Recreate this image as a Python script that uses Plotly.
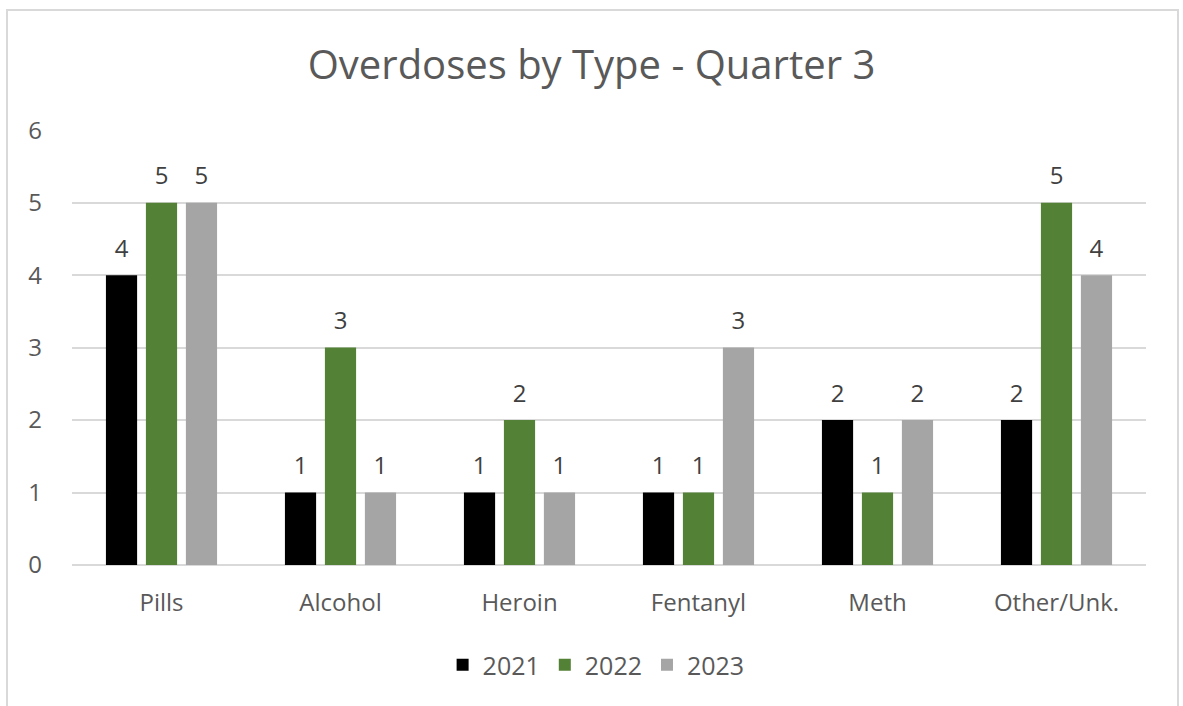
import plotly.graph_objects as go

categories = ["Pills", "Alcohol", "Heroin", "Fentanyl", "Meth", "Other/Unk."]
series_names = ["2021", "2022", "2023"]
values_2021 = [4, 1, 1, 1, 2, 2]
values_2022 = [5, 3, 2, 1, 1, 5]
values_2023 = [5, 1, 1, 3, 2, 4]
y_ticks = [0, 1, 2, 3, 4, 5, 6]

colors = ["#000000", "#538135", "#A5A5A5"]
FONT = "Open Sans, sans-serif"
TXT = "#595959"
LBL = "#404040"

fig = go.Figure()
for name, vals, col in zip(series_names, [values_2021, values_2022, values_2023], colors):
    fig.add_trace(go.Bar(
        x=categories, y=vals, name=name, offsetgroup=name, alignmentgroup="a",
        marker=dict(color=col, line=dict(width=0)),
    ))
for name, vals in zip(series_names, [values_2021, values_2022, values_2023]):
    fig.add_trace(go.Scatter(
        x=categories, y=vals, name=name, offsetgroup=name, alignmentgroup="a",
        mode="markers+text", marker=dict(size=18, opacity=0),
        text=[str(v) for v in vals], textposition="top center",
        textfont=dict(size=24, color=LBL, family=FONT),
        showlegend=False, hoverinfo="skip", cliponaxis=False,
    ))

fig.update_layout(
    width=1183, height=706,
    paper_bgcolor="white", plot_bgcolor="white",
    margin=dict(l=72, r=37, t=130, b=141),
    barmode="group", bargap=0.33, bargroupgap=0.22,
    scattermode="group", scattergap=0.33,
    title=dict(text="Overdoses by Type - Quarter 3", x=0.5, xanchor="center",
               y=1 - 65 / 706, yanchor="middle",
               font=dict(size=40, color=TXT, family=FONT)),
    font=dict(family=FONT, color=TXT),
    legend=dict(orientation="h", x=0.488, xanchor="center", y=-0.23, yanchor="middle",
                font=dict(size=25, color=TXT, family=FONT),
                traceorder="normal"),
    xaxis=dict(showgrid=False, showline=False, ticks="",
               tickfont=dict(size=24, color=TXT, family=FONT), ticklabelstandoff=21),
    yaxis=dict(range=[0, 6.003], tickvals=y_ticks, showgrid=True, gridcolor="#D9D9D9",
               gridwidth=2, zeroline=True, zerolinecolor="#D9D9D9", zerolinewidth=2,
               showline=False, ticks="",
               tickfont=dict(size=24, color=TXT, family=FONT), ticklabelstandoff=29),
)

pw = 1183 - 72 - 37
ph = 706 - 130 - 141
fig.add_shape(type="rect", xref="paper", yref="paper",
              x0=(7 - 72) / pw, x1=(1178 - 72) / pw,
              y0=-(730 - 565) / ph, y1=(565 - 10) / ph,
              line=dict(color="#D9D9D9", width=2), fillcolor="rgba(0,0,0,0)", layer="below")

fig.write_html("out.html", config={"displayModeBar": False},
               post_script="document.body.style.margin='0';document.body.style.overflow='hidden';")
